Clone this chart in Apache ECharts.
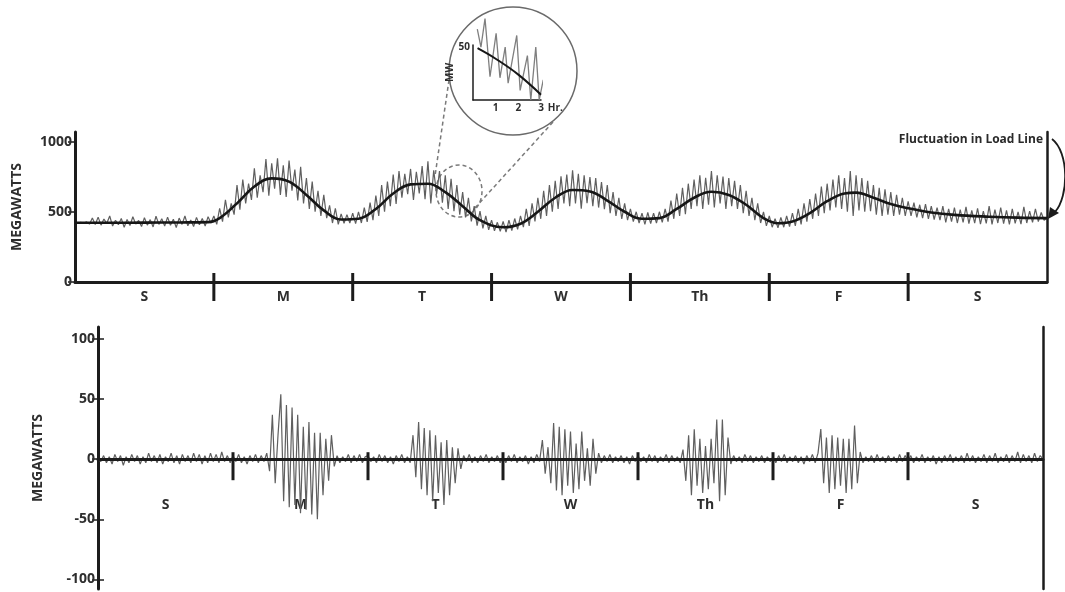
<!DOCTYPE html>
<html>
<head>
<meta charset="utf-8">
<script src="https://cdn.jsdelivr.net/npm/echarts@6/dist/echarts.min.js"></script>
<style>
  html, body { margin: 0; padding: 0; background: #fff; }
  #chart { width: 1065px; height: 592px; }
</style>
</head>
<body>
<div id="chart"></div>
<script>
// ---- Week of system load, one reading every half hour (MW) ----
const sampleStep = 0.5;
const dayNames = ['S', 'M', 'T', 'W', 'Th', 'F', 'S'];
const dayMidHours = [12, 36, 60, 84, 108, 132, 156];
const dayBoundaryHours = [24, 48, 72, 96, 120, 144];
const loadTicks = [0, 500, 1000];
const fluctTicks = [-100, -50, 0, 50, 100];

// Actual (noisy) load, per day
const loadSun = [422, 420, 425, 418, 428, 412, 455, 410, 462, 405, 448, 418, 470, 398, 440, 408, 452, 390, 445, 402, 465, 412, 438, 395, 458, 405, 444, 392, 468, 410, 450, 398, 462, 404, 447, 388, 455, 410, 470, 400, 442, 395, 460, 408, 452, 398, 465, 420];
const loadMon = [470, 410, 525, 430, 585, 460, 560, 480, 690, 515, 730, 560, 700, 585, 810, 600, 760, 640, 875, 615, 845, 665, 880, 620, 830, 605, 865, 650, 800, 580, 820, 560, 740, 520, 715, 500, 650, 470, 620, 455, 545, 420, 525, 410, 485, 418, 480, 420];
const loadTue = [490, 415, 500, 420, 530, 428, 565, 440, 615, 470, 690, 500, 715, 540, 765, 555, 790, 600, 770, 625, 805, 585, 785, 630, 825, 590, 860, 560, 795, 625, 790, 565, 760, 520, 735, 505, 690, 480, 640, 460, 600, 432, 540, 402, 505, 382, 470, 372];
const loadWed = [440, 365, 425, 360, 432, 355, 440, 366, 452, 375, 470, 390, 520, 400, 560, 432, 600, 450, 650, 470, 690, 500, 720, 520, 752, 560, 765, 540, 795, 560, 770, 522, 760, 562, 748, 540, 740, 530, 712, 518, 690, 490, 640, 470, 600, 450, 560, 440];
const loadThu = [520, 430, 500, 420, 490, 410, 495, 415, 490, 420, 500, 425, 520, 430, 580, 450, 630, 470, 670, 482, 700, 520, 730, 540, 760, 520, 742, 550, 790, 530, 760, 560, 750, 520, 740, 540, 720, 520, 690, 490, 650, 470, 600, 440, 560, 420, 500, 400];
const loadFri = [470, 390, 450, 385, 460, 390, 470, 395, 490, 400, 520, 410, 560, 430, 590, 450, 630, 470, 680, 490, 700, 510, 730, 530, 760, 520, 740, 500, 790, 470, 760, 510, 740, 500, 720, 505, 690, 480, 670, 470, 660, 480, 640, 470, 620, 480, 600, 470];
const loadSat = [575, 470, 565, 460, 550, 455, 555, 450, 540, 445, 530, 440, 540, 425, 520, 430, 530, 420, 515, 425, 535, 415, 510, 420, 525, 412, 505, 418, 540, 410, 515, 420, 530, 415, 510, 410, 520, 418, 500, 412, 535, 420, 505, 425, 520, 430, 495, 440, 455];

// Smoothed load line (hour, MW)
const trendHours = [0, 6, 12, 18, 23, 25, 28, 31, 34, 37, 40, 43, 46, 49, 52, 55, 58, 61, 64, 67, 70, 74, 77, 80, 83, 86, 89, 92, 95, 98, 101, 104, 107, 110, 113, 116, 119, 121.5, 124, 127, 130, 133, 135, 138, 141, 144, 148, 152, 158, 163, 168];
const trendMW = [422, 422, 423, 424, 426, 455, 560, 680, 738, 715, 620, 510, 445, 450, 520, 630, 695, 700, 640, 540, 440, 390, 415, 500, 600, 655, 645, 580, 500, 450, 455, 520, 600, 643, 620, 550, 455, 418, 430, 490, 575, 630, 636, 600, 555, 525, 495, 478, 465, 458, 455];

// Fluctuation about the load line, per day (MW)
const fluctSun = [0, -2, 3, -3, 2, -4, 4, -2, 3, -5, 2, -3, 4, -2, 3, -4, 2, -3, 5, -2, 3, -3, 4, -4, 2, -2, 5, -3, 3, -4, 4, -2, 3, -3, 5, -2, 4, -4, 3, -3, 5, -2, 4, -3, 6, -2, 3, -3];
const fluctMon = [3, -2, 4, -3, 2, -4, 3, -2, 4, -3, 3, -2, 5, -10, 37, -20, 20, 54, -35, 45, -40, 43, -38, 37, -45, 27, -42, 31, -46, 22, -50, 22, -30, 17, -18, 20, -6, 3, -3, 2, -2, 4, -3, 3, -2, 4, -3, 2];
const fluctTue = [3, -2, 2, -3, 4, -2, 3, -3, 2, -4, 3, -2, 4, -3, 2, -3, 20, -15, 31, -25, 26, -30, 24, -35, 20, -28, 14, -38, 16, -30, 10, -20, 9, -8, 3, -2, 4, -3, 2, -3, 3, -2, 4, -3, 2, -2, 3, -3];
const fluctWed = [2, -3, 3, -2, 4, -3, 2, -2, 3, -4, 2, -3, 4, -2, 16, -12, 10, -20, 30, -26, 27, -30, 25, -22, 23, -28, 13, -25, 23, -18, 9, -22, 17, -12, 5, -3, 3, -2, 4, -3, 2, -2, 3, -3, 2, -4, 3, -2];
const fluctThu = [3, -2, 2, -3, 4, -2, 3, -3, 2, -2, 4, -3, 3, -2, 2, -3, 8, -18, 20, -30, 25, -22, 17, -28, 11, -25, 17, -20, 33, -35, 33, -30, 18, -4, 3, -2, 2, -3, 4, -2, 3, -3, 2, -2, 3, -3, 2, -2];
const fluctFri = [2, -3, 3, -2, 4, -3, 2, -2, 3, -3, 2, -4, 3, -2, 4, -3, 5, 25, -20, 18, -28, 20, -25, 18, -22, 17, -28, 17, -25, 28, -20, 6, -3, 2, -2, 3, -3, 4, -2, 2, -3, 3, -2, 2, -3, 4, -2, 3];
const fluctSat = [-2, 3, -3, 2, -2, 4, -3, 2, -2, 3, -4, 2, -3, 3, -2, 4, -3, 2, -2, 3, -3, 5, -2, 3, -3, 2, -2, 4, -3, 3, -2, 5, -3, 2, -2, 4, -3, 3, -2, 6, -3, 4, -2, 3, -3, 5, -2, 3, 0];

// Three-hour close-up (hours, MW)
const insetLoadHours = [0.19, 0.35, 0.53, 0.75, 1.02, 1.19, 1.42, 1.55, 1.93, 2.08, 2.4, 2.55, 2.77, 2.92, 3.1];
const insetLoadMW = [67, 50, 77, 22, 63, 21, 50, 16, 61, 9, 42, 0, 50, 0, 19];
const insetTrendHours = [0.2, 1, 2, 3];
const insetTrendMW = [49, 39, 24, 5];

// ---- helpers ----
function dayPoints(days) {
  const pts = [];
  days.forEach((vals, d) => vals.forEach((v, i) => pts.push([d * 24 + i * sampleStep, v])));
  return pts;
}
function pairs(xs, ys) { return xs.map((x, i) => [x, ys[i]]); }

const FONT = '"Open Sans", "DejaVu Sans", sans-serif';
const INK = '#1c1c1c';
const TXT = '#2e2e2e';
const TRACE = '#5f5f5f';

function separatorSeries(xIdx, yIdx, up, down) {
  return {
    type: 'custom', xAxisIndex: xIdx, yAxisIndex: yIdx, silent: true, z: 5,
    data: dayBoundaryHours.map(h => [h, 0]),
    encode: { x: 0, y: 1 },
    renderItem: (params, api) => {
      const p = api.coord([api.value(0), api.value(1)]);
      return { type: 'line', shape: { x1: p[0], y1: p[1] - up, x2: p[0], y2: p[1] + down },
               style: { stroke: INK, lineWidth: 3 } };
    }
  };
}

const labelStyle = { fontFamily: FONT, fontSize: 14, fontWeight: 700, color: TXT };
const smallStyle = { fontFamily: FONT, fontSize: 10, fontWeight: 700, color: TXT };
const plain = v => String(v);
const dayLabel = v => dayNames[dayMidHours.indexOf(v)];

const chart = echarts.init(document.getElementById('chart'), null, { renderer: 'canvas' });

chart.setOption({
  animation: false,
  backgroundColor: '#fff',
  grid: [
    { left: 75, top: 132, width: 972, height: 150, outerBoundsMode: 'none', containLabel: false },
    { left: 98, top: 327, width: 945, height: 262, outerBoundsMode: 'none', containLabel: false },
    { left: 473, top: 45, width: 68, height: 55, outerBoundsMode: 'none', containLabel: false }
  ],
  xAxis: [
    { gridIndex: 0, type: 'value', min: 0, max: 168,
      axisLine: { lineStyle: { color: INK, width: 3 } }, axisTick: { show: false }, splitLine: { show: false },
      axisLabel: Object.assign({ customValues: dayMidHours, margin: 8, formatter: dayLabel }, labelStyle) },
    { gridIndex: 1, type: 'value', min: 0, max: 168, z: 3,
      axisLine: { onZero: true, lineStyle: { color: INK, width: 3 } }, axisTick: { show: false }, splitLine: { show: false },
      axisLabel: { show: false } },
    { gridIndex: 2, type: 'value', min: 0, max: 3,
      axisLine: { lineStyle: { color: INK, width: 1.5 } }, axisTick: { show: false }, splitLine: { show: false },
      axisLabel: Object.assign({ customValues: [1, 2, 3], margin: 3, formatter: plain }, smallStyle),
      name: 'Hr.', nameLocation: 'end', nameGap: 5,
      nameTextStyle: Object.assign({ verticalAlign: 'top', padding: [3, 0, 0, 0] }, smallStyle) },
    // day names under the fluctuation trace
    { gridIndex: 1, type: 'value', min: 0, max: 168, position: 'bottom', offset: -91,
      axisLine: { show: false, onZero: false }, axisTick: { show: false }, splitLine: { show: false },
      axisLabel: Object.assign({ customValues: dayMidHours, margin: 0, formatter: dayLabel }, labelStyle) }
  ],
  yAxis: [
    { gridIndex: 0, type: 'value', min: 0, max: 1068,
      axisLine: { show: true, lineStyle: { color: INK, width: 3 } },
      axisTick: { show: true, customValues: loadTicks, length: 7, lineStyle: { color: INK, width: 1.5 } },
      axisLabel: Object.assign({ customValues: loadTicks, margin: 3, formatter: plain }, labelStyle),
      splitLine: { show: false },
      name: 'MEGAWATTS', nameLocation: 'middle', nameRotate: 90, nameGap: 51, nameTextStyle: labelStyle },
    { gridIndex: 0, type: 'value', min: 0, max: 1068, position: 'right',
      axisLine: { show: true, onZero: false, lineStyle: { color: INK, width: 2.5 } },
      axisTick: { show: false }, axisLabel: { show: false }, splitLine: { show: false } },
    { gridIndex: 1, type: 'value', min: -108, max: 110,
      axisLine: { show: true, lineStyle: { color: INK, width: 3 } },
      axisTick: { show: true, customValues: fluctTicks, length: 6, lineStyle: { color: INK, width: 1.5 } },
      axisLabel: Object.assign({ customValues: fluctTicks, margin: 3, formatter: plain }, labelStyle),
      splitLine: { show: false },
      name: 'MEGAWATTS', nameLocation: 'middle', nameRotate: 90, nameGap: 53, nameTextStyle: labelStyle },
    { gridIndex: 1, type: 'value', min: -108, max: 110, position: 'left',
      axisLine: { show: false, onZero: false },
      axisTick: { show: true, inside: true, customValues: fluctTicks, length: 6, lineStyle: { color: INK, width: 1.5 } },
      axisLabel: { show: false }, splitLine: { show: false } },
    { gridIndex: 1, type: 'value', min: -108, max: 110, position: 'right',
      axisLine: { show: true, onZero: false, lineStyle: { color: INK, width: 2.5 } },
      axisTick: { show: false }, axisLabel: { show: false }, splitLine: { show: false } },
    { gridIndex: 2, type: 'value', min: 0, max: 52,
      axisLine: { show: true, lineStyle: { color: INK, width: 1.5 } },
      axisTick: { show: false },
      axisLabel: Object.assign({ customValues: [50], margin: 3, formatter: plain }, smallStyle),
      splitLine: { show: false },
      name: 'MW', nameLocation: 'middle', nameRotate: 90, nameGap: 7, nameTextStyle: smallStyle }
  ],
  series: [
    { name: 'Load', type: 'line', xAxisIndex: 0, yAxisIndex: 0, showSymbol: false, z: 2,
      data: dayPoints([loadSun, loadMon, loadTue, loadWed, loadThu, loadFri, loadSat]),
      lineStyle: { color: TRACE, width: 1.2 } },
    { name: 'Load line', type: 'line', xAxisIndex: 0, yAxisIndex: 0, showSymbol: false, smooth: 0.4, z: 3,
      data: pairs(trendHours, trendMW),
      lineStyle: { color: '#161616', width: 2.6 } },
    separatorSeries(0, 0, 9, 19),
    { name: 'Fluctuation', type: 'line', xAxisIndex: 1, yAxisIndex: 2, showSymbol: false, z: 2,
      data: dayPoints([fluctSun, fluctMon, fluctTue, fluctWed, fluctThu, fluctFri, fluctSat]),
      lineStyle: { color: TRACE, width: 1.2 } },
    separatorSeries(1, 2, 7, 21),
    { name: 'Close-up load', type: 'line', xAxisIndex: 2, yAxisIndex: 5, showSymbol: false, clip: false, z: 2,
      data: pairs(insetLoadHours, insetLoadMW),
      lineStyle: { color: '#7f7f7f', width: 1.3 } },
    { name: 'Close-up load line', type: 'line', xAxisIndex: 2, yAxisIndex: 5, showSymbol: false, clip: false, smooth: 0.4, z: 3,
      data: pairs(insetTrendHours, insetTrendMW),
      lineStyle: { color: '#161616', width: 2 } }
  ],
  graphic: [
    // magnifier circle and its guide lines
    { type: 'circle', shape: { cx: 513, cy: 71, r: 64 }, style: { fill: null, stroke: '#6a6a6a', lineWidth: 1.5 }, silent: true },
    { type: 'ellipse', shape: { cx: 459, cy: 191, rx: 23, ry: 26 },
      style: { fill: null, stroke: '#7a7a7a', lineWidth: 1.5, lineDash: [4, 3] }, silent: true },
    { type: 'line', shape: { x1: 449, y1: 80, x2: 435, y2: 176 },
      style: { stroke: '#7a7a7a', lineWidth: 1.5, lineDash: [4, 3] }, silent: true },
    { type: 'line', shape: { x1: 553, y1: 122, x2: 474, y2: 209 },
      style: { stroke: '#7a7a7a', lineWidth: 1.5, lineDash: [4, 3] }, silent: true },
    // annotation with curved pointer
    { type: 'text', silent: true,
      style: { text: 'Fluctuation in Load Line', x: 1043, y: 140, align: 'right', verticalAlign: 'middle',
               font: '700 12px ' + FONT, fill: '#2a2a2a' } },
    { type: 'bezierCurve', silent: true,
      shape: { x1: 1052, y1: 139, cpx1: 1069, cpy1: 152, cpx2: 1069, cpy2: 196, x2: 1055, y2: 212 },
      style: { fill: null, stroke: INK, lineWidth: 1.8 } },
    { type: 'polygon', silent: true,
      shape: { points: [[1048, 219], [1050, 207], [1059, 213]] },
      style: { fill: INK } }
  ]
});
</script>
</body>
</html>
